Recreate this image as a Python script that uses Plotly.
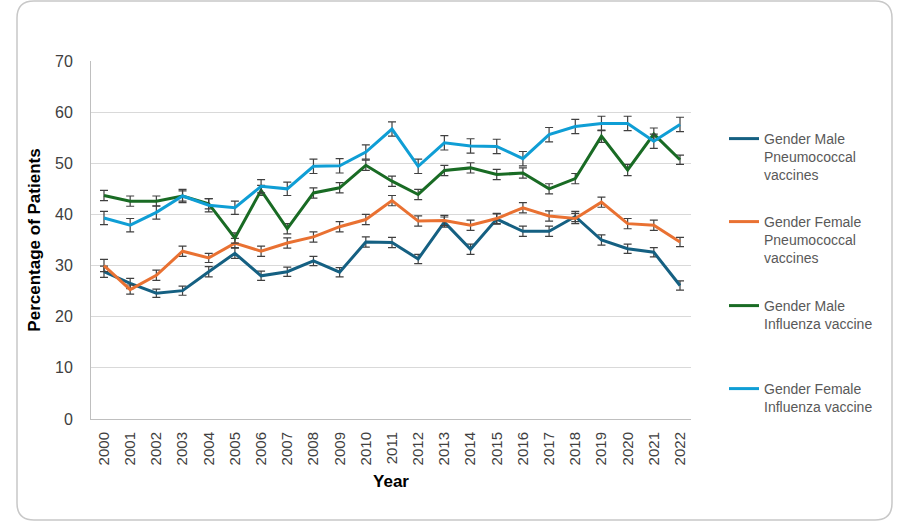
import plotly.graph_objects as go

years = list(range(2000, 2023))

male_pneumo = [28.8, 26.5, 24.6, 25.1, 28.8, 32.4, 28.0, 28.8, 30.9, 28.7, 34.6, 34.5, 31.3,
               38.5, 33.2, 39.1, 36.7, 36.7, 39.6, 35.0, 33.3, 32.6, 26.1]
female_pneumo = [30.0, 25.3, 28.1, 32.8, 31.5, 34.4, 32.8, 34.4, 35.6, 37.6, 39.0, 42.7, 38.7,
                 38.8, 37.9, 39.2, 41.3, 39.7, 39.2, 42.4, 38.2, 37.9, 34.6]
male_flu = [43.7, 42.6, 42.6, 43.6, 42.1, 35.4, 44.7, 37.2, 44.2, 45.2, 49.6, 46.5, 43.9,
            48.6, 49.1, 47.8, 48.1, 45.0, 47.0, 55.3, 48.7, 55.7, 50.7]
female_flu = [39.3, 37.9, 40.4, 43.6, 41.8, 41.3, 45.5, 45.0, 49.4, 49.5, 52.2, 56.7, 49.4,
              54.0, 53.4, 53.3, 50.9, 55.6, 57.2, 57.8, 57.8, 54.3, 57.6]

err_male_pneumo = [1.1, 1.0, 0.8, 0.9, 1.0, 1.0, 0.9, 0.9, 0.9, 0.9, 1.0, 1.0, 0.9,
                   1.0, 1.0, 1.0, 1.0, 1.0, 1.0, 1.0, 0.9, 0.9, 0.9]
err_female_pneumo = [1.2, 0.9, 1.0, 1.0, 0.9, 0.9, 1.0, 1.0, 1.0, 1.0, 1.0, 1.0, 1.0,
                     1.0, 1.0, 1.0, 1.0, 1.0, 1.0, 1.0, 1.0, 1.0, 0.9]
err_male_flu = [1.0, 1.0, 1.0, 1.0, 1.0, 1.0, 1.0, 1.0, 1.0, 1.0, 1.0, 1.0, 1.0,
                1.0, 1.0, 1.0, 1.0, 1.0, 1.0, 1.2, 1.1, 1.2, 0.9]
err_female_flu = [1.3, 1.3, 1.3, 1.3, 1.3, 1.3, 1.3, 1.3, 1.4, 1.4, 1.4, 1.4, 1.4,
                  1.4, 1.4, 1.4, 1.4, 1.4, 1.4, 1.4, 1.4, 1.4, 1.4]

names = ["Gender Male<br>Pneumococcal<br>vaccines",
         "Gender Female<br>Pneumococcal<br>vaccines",
         "Gender Male<br>Influenza vaccine",
         "Gender Female<br>Influenza vaccine"]
colors = ["#156082", "#E97132", "#196B24", "#0F9ED5"]
series = [male_pneumo, female_pneumo, male_flu, female_flu]
errors = [err_male_pneumo, err_female_pneumo, err_male_flu, err_female_flu]
legend_ids = ["legend", "legend2", "legend3", "legend4"]

# plot-area geometry in pixels
L, R, T, B = 91, 691, 61, 419
W, H = 911, 532


def px_x(px):
    return (px - L) / (R - L)


def px_y(py):
    return (B - py) / (B - T)


fig = go.Figure()
for name, col, ys, es, lg in zip(names, colors, series, errors, legend_ids):
    fig.add_trace(go.Scatter(
        x=years, y=ys, name=name, mode="lines",
        line=dict(color=col, width=3),
        error_y=dict(type="data", array=es, visible=True,
                     color="#404040", thickness=1.2, width=4),
        legend=lg,
    ))

legend_tops = [123, 206, 290, 373]
legend_common = dict(
    xanchor="left", yanchor="top", x=px_x(724),
    font=dict(family="Liberation Sans, Arial, sans-serif", size=14, color="#595959"),
    bgcolor="rgba(0,0,0,0)", borderwidth=0, valign="top",
)
leg_layout = {}
for lg, top in zip(legend_ids, legend_tops):
    leg_layout[lg] = dict(legend_common, y=px_y(top))

# rounded outer border
x0, x1, y0, y1, r = 17, 892, 1, 520, 17
path = (f"M {px_x(x0 + r)},{px_y(y0)} L {px_x(x1 - r)},{px_y(y0)} "
        f"Q {px_x(x1)},{px_y(y0)} {px_x(x1)},{px_y(y0 + r)} "
        f"L {px_x(x1)},{px_y(y1 - r)} "
        f"Q {px_x(x1)},{px_y(y1)} {px_x(x1 - r)},{px_y(y1)} "
        f"L {px_x(x0 + r)},{px_y(y1)} "
        f"Q {px_x(x0)},{px_y(y1)} {px_x(x0)},{px_y(y1 - r)} "
        f"L {px_x(x0)},{px_y(y0 + r)} "
        f"Q {px_x(x0)},{px_y(y0)} {px_x(x0 + r)},{px_y(y0)} Z")

fig.update_layout(
    width=W, height=H,
    margin=dict(l=L, r=W - R, t=T, b=H - B),
    paper_bgcolor="white", plot_bgcolor="white",
    font=dict(family="Liberation Sans, Arial, sans-serif", color="#404040"),
    showlegend=True,
    shapes=[dict(type="path", path=path, xref="paper", yref="paper",
                 line=dict(color="#C8C8C8", width=1.5), layer="below")],
    **leg_layout,
)

fig.update_xaxes(
    range=[2000 - 13 / 26.2, 2022 + 11 / 26.2],
    tickmode="array", tickvals=years, ticktext=[str(y) for y in years],
    tickangle=-90, tickfont=dict(size=15, color="#404040"),
    showgrid=False, zeroline=False,
    showline=True, linecolor="#BFBFBF", linewidth=1,
    ticks="", ticklabelstandoff=6,
    title=dict(text="<b>Year</b>", font=dict(size=17, color="#000000"), standoff=10),
)
fig.update_yaxes(
    range=[0, 70], dtick=10,
    tickfont=dict(size=16, color="#404040"),
    showgrid=True, gridcolor="#D9D9D9", gridwidth=1,
    zeroline=False, showline=True, linecolor="#BFBFBF", linewidth=1,
    ticks="", ticklabelstandoff=14,
    title=dict(text="<b>Percentage of Patients</b>", font=dict(size=17, color="#000000"), standoff=10),
)

fig.write_html("out.html")
